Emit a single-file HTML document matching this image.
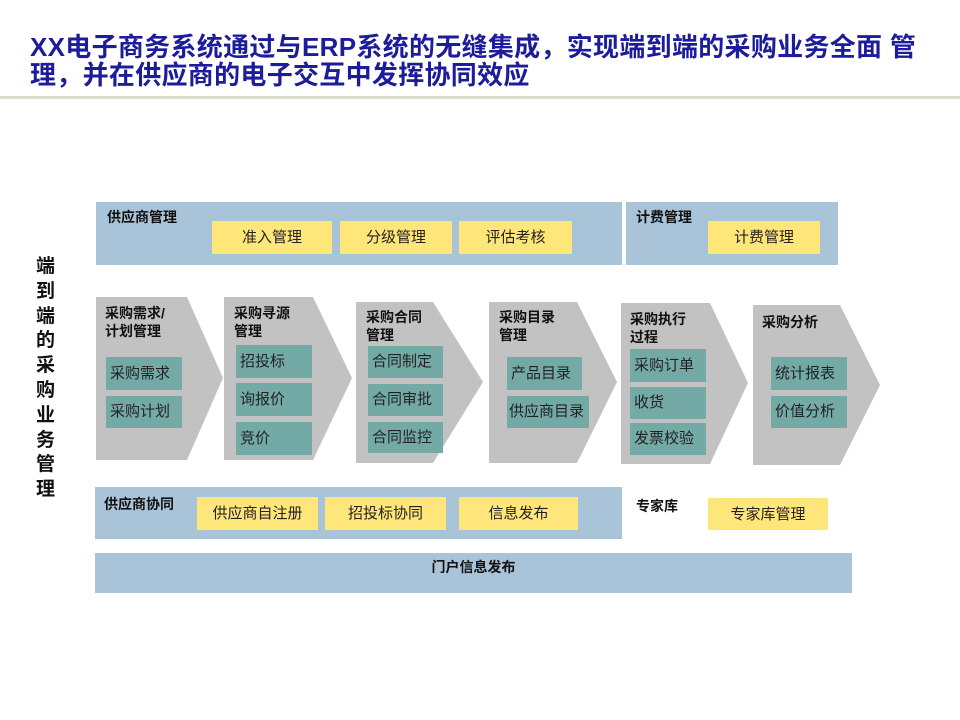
<!DOCTYPE html>
<html><head><meta charset="utf-8"><style>
body{margin:0;width:960px;height:720px;background:#fff;position:relative;overflow:hidden;font-family:"Liberation Sans","Noto Sans CJK SC",sans-serif;}
.a{position:absolute;box-sizing:border-box;}
.blue{background:#a9c4d8;}
.y{background:#ffe67a;font-size:15px;text-align:center;color:#222;}
.t{background:#73aaa6;font-size:15px;color:#222;padding-left:4px;}
.h{font-weight:bold;font-size:14px;color:#111;line-height:18px;}
</style></head><body>
<div class="a" style="left:30px;top:33px;font-size:26px;font-weight:bold;color:#1c1c9c;line-height:28px;letter-spacing:0.3px;white-space:nowrap">XX电子商务系统通过与ERP系统的无缝集成，实现端到端的采购业务全面 管<br>理，并在供应商的电子交互中发挥协同效应</div>
<div class="a" style="left:0;top:96px;width:960px;height:3px;background:#dcdccb"></div>
<div class="a" style="left:36px;top:255px;width:22px;font-size:19px;font-weight:bold;line-height:24.8px;color:#111">端到端的采购业务管理</div>

<div class="a blue" style="left:96px;top:202px;width:526px;height:63px"></div>
<div class="a h" style="left:107px;top:208px">供应商管理</div>
<div class="a y" style="left:212px;top:221px;width:120px;height:33px;line-height:33px">准入管理</div>
<div class="a y" style="left:340px;top:221px;width:112px;height:33px;line-height:33px">分级管理</div>
<div class="a y" style="left:459px;top:221px;width:113px;height:33px;line-height:33px">评估考核</div>
<div class="a blue" style="left:626px;top:202px;width:212px;height:63px"></div>
<div class="a h" style="left:636px;top:208px">计费管理</div>
<div class="a y" style="left:708px;top:221px;width:112px;height:33px;line-height:33px">计费管理</div>

<svg class="a" style="left:0;top:0" width="960" height="720">
<g fill="#c2c2c2">
<polygon points="96,297 187,297 223,378 187,460 96,460"/>
<polygon points="224,297 313,297 352,378 313,460 224,460"/>
<polygon points="356,302 433,302 483,382 433,463 356,463"/>
<polygon points="489,302 577,302 617,382 577,463 489,463"/>
<polygon points="621,303 710,303 748,383 710,464 621,464"/>
<polygon points="753,305 840,305 880,385 840,465 753,465"/>
</g></svg>

<div class="a h" style="left:105px;top:304px">采购需求/<br>计划管理</div>
<div class="a t" style="left:106px;top:357px;width:76px;height:33px;line-height:33px">采购需求</div>
<div class="a t" style="left:106px;top:396px;width:76px;height:32px;line-height:32px">采购计划</div>

<div class="a h" style="left:234px;top:304px">采购寻源<br>管理</div>
<div class="a t" style="left:236px;top:345px;width:76px;height:33px;line-height:33px">招投标</div>
<div class="a t" style="left:236px;top:383px;width:76px;height:33px;line-height:33px">询报价</div>
<div class="a t" style="left:236px;top:422px;width:76px;height:33px;line-height:33px">竞价</div>

<div class="a h" style="left:366px;top:308px">采购合同<br>管理</div>
<div class="a t" style="left:368px;top:346px;width:75px;height:32px;line-height:32px">合同制定</div>
<div class="a t" style="left:368px;top:384px;width:75px;height:32px;line-height:32px">合同审批</div>
<div class="a t" style="left:368px;top:422px;width:75px;height:31px;line-height:31px">合同监控</div>

<div class="a h" style="left:499px;top:308px">采购目录<br>管理</div>
<div class="a t" style="left:507px;top:357px;width:75px;height:33px;line-height:33px">产品目录</div>
<div class="a t" style="left:507px;top:396px;width:82px;height:32px;line-height:32px;padding-left:2px">供应商目录</div>

<div class="a h" style="left:630px;top:310px">采购执行<br>过程</div>
<div class="a t" style="left:630px;top:349px;width:76px;height:33px;line-height:33px">采购订单</div>
<div class="a t" style="left:630px;top:387px;width:76px;height:32px;line-height:32px">收货</div>
<div class="a t" style="left:630px;top:423px;width:76px;height:32px;line-height:32px">发票校验</div>

<div class="a h" style="left:762px;top:313px">采购分析</div>
<div class="a t" style="left:771px;top:357px;width:76px;height:33px;line-height:33px">统计报表</div>
<div class="a t" style="left:771px;top:396px;width:76px;height:32px;line-height:32px">价值分析</div>

<div class="a blue" style="left:95px;top:487px;width:527px;height:52px"></div>
<div class="a h" style="left:104px;top:495px">供应商协同</div>
<div class="a y" style="left:197px;top:497px;width:121px;height:33px;line-height:33px">供应商自注册</div>
<div class="a y" style="left:325px;top:497px;width:121px;height:33px;line-height:33px">招投标协同</div>
<div class="a y" style="left:459px;top:497px;width:119px;height:33px;line-height:33px">信息发布</div>
<div class="a h" style="left:636px;top:497px">专家库</div>
<div class="a y" style="left:708px;top:498px;width:120px;height:32px;line-height:34px">专家库管理</div>

<div class="a blue" style="left:95px;top:553px;width:757px;height:40px"></div>
<div class="a h" style="left:95px;top:558px;width:757px;text-align:center">门户信息发布</div>
</body></html>
